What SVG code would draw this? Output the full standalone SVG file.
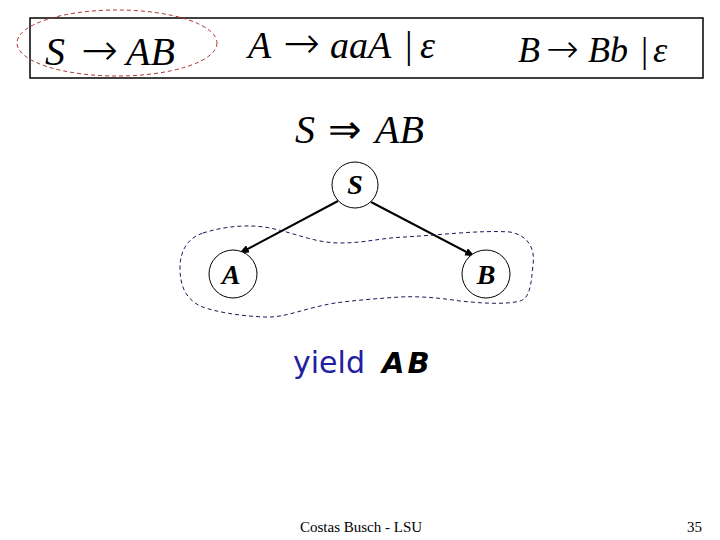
<svg xmlns="http://www.w3.org/2000/svg" width="720" height="540" viewBox="0 0 720 540">
<style>
.m{font-family:"Liberation Serif","Times New Roman",serif;font-style:italic;fill:#000}
.ar{font-family:"DejaVu Sans ExtraLight","DejaVu Sans",sans-serif;font-weight:200;font-style:normal}
.n{fill:#fff;stroke:#000;stroke-width:1}
.nl{font-family:"Liberation Serif",serif;font-style:italic;font-weight:bold;font-size:28px;text-anchor:middle;fill:#000}
.e{stroke:#000;stroke-width:2;fill:none;marker-end:url(#ah)}
.ft{font-family:"Liberation Serif",serif;font-size:15px;fill:#000}
</style>
<defs>
<marker id="ah" markerWidth="10" markerHeight="8" refX="9" refY="4" orient="auto" markerUnits="userSpaceOnUse">
<path d="M0,0 L10,4 L0,8 Z" fill="#000"/>
</marker>
</defs>
<rect width="720" height="540" fill="#fff"/>
<g id="grammar">
<rect x="30" y="18" width="673" height="60" fill="none" stroke="#000" stroke-width="1.5"/>
<text class="m" y="65" font-size="40"><tspan x="45">S</tspan><tspan class="ar" x="81" font-size="44">→</tspan><tspan x="126">AB</tspan></text>
<text class="m" y="58" font-size="38"><tspan x="248">A</tspan><tspan class="ar" x="283" font-size="44">→</tspan><tspan x="330">aaA</tspan><tspan font-style="normal" x="405">|</tspan><tspan x="420">ε</tspan></text>
<text class="m" y="62" font-size="36"><tspan x="518">B</tspan><tspan class="ar" x="546" font-size="39">→</tspan><tspan x="588">Bb</tspan><tspan font-style="normal" x="641">|</tspan><tspan x="653">ε</tspan></text>
<ellipse cx="117" cy="43" rx="100" ry="33" fill="none" stroke="#b03030" stroke-width="1" stroke-dasharray="4,3"/>
</g>
<g id="derivation">
<text class="m" y="143" font-size="40"><tspan x="295">S</tspan><tspan class="ar" x="328" font-size="40">⇒</tspan><tspan x="375">AB</tspan></text>
</g>
<g id="connectors">
<line class="e" x1="338" y1="201" x2="240" y2="253"/>
<line class="e" x1="371" y1="202" x2="474" y2="256"/>
</g>
<g id="node-S">
<circle class="n" cx="355" cy="185" r="23"/>
<text class="nl" x="355" y="194">S</text>
</g>
<g id="node-A">
<circle class="n" cx="233" cy="274" r="24"/>
<text class="nl" x="231" y="284">A</text>
</g>
<g id="node-B">
<circle class="n" cx="486" cy="274" r="24"/>
<text class="nl" x="486" y="284">B</text>
</g>
<g id="yield-region">
<path d="M203,233 C225,226 250,224 270,228 C295,233 315,243 340,243 C365,243 380,238 405,237 C440,235 480,230 510,232 C530,236 535,250 533,265 C531,285 530,298 520,301 C505,305 480,303 460,301 C440,298 420,296 400,297 C370,299 350,301 335,303 C305,308 285,318 265,317 C240,316 215,312 200,306 C185,298 180,285 180,268 C180,250 188,238 203,233 Z" fill="none" stroke="#1a1a5a" stroke-width="1" stroke-dasharray="4,3"/>
</g>
<g id="yield">
<text x="293" y="373" font-family="'DejaVu Sans',Verdana,sans-serif" font-size="30" fill="#2020a0">yield</text>
<text x="382" y="373" font-family="'DejaVu Sans',Verdana,sans-serif" font-size="29" font-weight="bold" font-style="italic" letter-spacing="3" fill="#000">AB</text>
</g>
<g id="footer">
<text class="ft" x="300" y="532">Costas Busch - LSU</text>
<text class="ft" x="687" y="532">35</text>
</g>
</svg>
